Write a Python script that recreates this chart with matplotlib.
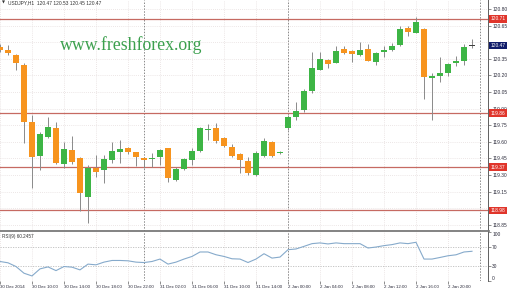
import matplotlib
matplotlib.use('Agg')
import matplotlib.pyplot as plt
from matplotlib.lines import Line2D
from matplotlib.transforms import blended_transform_factory
import numpy as np

# ---------------- data (USDJPY H1) ----------------
opens = [120.457, 120.430, 120.384, 120.294, 119.779, 119.472, 119.644, 119.725, 119.400, 119.526,
         119.454, 119.102, 119.364, 119.346, 119.436, 119.508, 119.544, 119.508, 119.454, 119.445,
         119.463, 119.544, 119.255, 119.355, 119.436, 119.517, 119.707, 119.725, 119.635, 119.553,
         119.490, 119.427, 119.300, 119.472, 119.599, 119.499, 119.725, 119.824, 119.888, 120.059,
         120.249, 120.339, 120.312, 120.439, 120.421, 120.384, 120.439, 120.321, 120.412, 120.430,
         120.475, 120.628, 120.583, 120.619, 120.177, 120.195, 120.222, 120.312, 120.330, 120.470]
highs = [120.484, 120.475, 120.390, 120.310, 119.842, 119.689, 119.824, 119.779, 119.599, 119.653,
         119.463, 119.391, 119.481, 119.481, 119.599, 119.617, 119.553, 119.508, 119.463, 119.499,
         119.535, 119.544, 119.373, 119.454, 119.544, 119.734, 119.761, 119.770, 119.644, 119.580,
         119.499, 119.463, 119.517, 119.635, 119.608, 119.517, 119.842, 119.960, 120.077, 120.412,
         120.412, 120.348, 120.466, 120.466, 120.430, 120.502, 120.484, 120.412, 120.466, 120.493,
         120.646, 120.646, 120.728, 120.628, 120.222, 120.366, 120.312, 120.375, 120.484, 120.530]
lows = [120.410, 120.384, 120.249, 119.590, 119.183, 119.346, 119.635, 119.400, 119.364, 119.400,
        118.972, 118.867, 119.282, 119.228, 119.409, 119.409, 119.490, 119.382, 119.364, 119.373,
        119.391, 119.237, 119.246, 119.346, 119.391, 119.508, 119.617, 119.590, 119.553, 119.463,
        119.318, 119.300, 119.291, 119.463, 119.463, 119.490, 119.707, 119.797, 119.870, 120.041,
        120.249, 120.267, 120.312, 120.394, 120.321, 120.375, 120.330, 120.294, 120.366, 120.421,
        120.466, 120.556, 120.583, 119.987, 119.797, 120.140, 120.195, 120.285, 120.294, 120.450]
closes = [120.430, 120.403, 120.312, 119.779, 119.463, 119.671, 119.734, 119.409, 119.535, 119.418,
          119.138, 119.364, 119.328, 119.445, 119.517, 119.535, 119.508, 119.463, 119.436, 119.454,
          119.526, 119.273, 119.355, 119.445, 119.517, 119.725, 119.716, 119.608, 119.562, 119.472,
          119.436, 119.318, 119.499, 119.608, 119.472, 119.508, 119.824, 119.879, 120.059, 120.267,
          120.348, 120.303, 120.421, 120.403, 120.394, 120.430, 120.330, 120.403, 120.430, 120.466,
          120.619, 120.592, 120.683, 120.186, 120.195, 120.222, 120.303, 120.330, 120.457, 120.470]
rsi = [39.2, 36.5, 28.8, 15.0, 9.4, 24.0, 28.0, 20.4, 28.8, 27.5,
       21.9, 33.8, 32.3, 37.9, 41.3, 41.3, 40.6, 37.9, 37.0, 39.2,
       44.2, 33.8, 37.9, 44.2, 49.6, 58.8, 58.8, 53.1, 49.6, 44.8,
       44.2, 37.1, 44.2, 55.2, 46.2, 48.3, 63.5, 65.0, 70.4, 76.0,
       77.5, 75.4, 77.5, 76.0, 76.0, 76.0, 67.0, 69.0, 71.9, 74.0,
       77.5, 76.0, 78.8, 44.2, 44.2, 47.5, 51.0, 53.0, 58.8, 60.2457]

price_ticks = [120.80, 120.65, 120.50, 120.35, 120.20, 120.05, 119.90,
               119.75, 119.60, 119.45, 119.30, 119.15, 119.00, 118.85]
hidden_ticks = [120.50, 119.00]   # covered by the price boxes in the original
level_values = [120.71, 119.86, 119.37, 118.98]
level_labels = ['120.71', '119.86', '119.37', '118.98']
current_price = 120.47
current_label = '120.47'
time_tick_pos = [0, 4, 8, 12, 16, 20, 24, 28, 32, 36, 40, 44, 48, 52, 56]
time_tick_labels = ['30 Dec 2014', '30 Dec 10:00', '30 Dec 14:00', '30 Dec 18:00',
                    '30 Dec 22:00', '31 Dec 02:00', '31 Dec 06:00', '31 Dec 10:00',
                    '31 Dec 14:00', '2 Jan 00:00', '2 Jan 04:00', '2 Jan 08:00',
                    '2 Jan 12:00', '2 Jan 16:00', '2 Jan 20:00']
day_separators = [18, 36, 60]
rsi_levels = [70, 30]
rsi_ticks = [100, 70, 30, 0]
title_text = 'USDJPY,H1  120.47 120.53 120.45 120.47'
rsi_text = 'RSI(9) 60.2457'
watermark = 'www.freshforex.org'

# ---------------- styling ----------------
W, H = 510, 289
GREEN = '#3DB545'
ORANGE = '#F7941E'
WICK = '#8a8a8a'
GRID = '#E6DEDE'
LEVEL = '#C66A62'
LABEL_RED = '#E0352B'
NAVY = '#101C6A'
TXT = '#2b2b3b'
FONT = 'Liberation Sans'

fig = plt.figure(figsize=(W / 100, H / 100), dpi=100)
fig.patch.set_facecolor('white')


def px(x0, y0, x1, y1):
    return [x0 / W, 1 - y1 / H, (x1 - x0) / W, (y1 - y0) / H]


ax = fig.add_axes(px(0, 0, 488, 230.5))
ax2 = fig.add_axes(px(0, 232, 488, 280.5))

n = len(opens)
x = np.arange(n)
o = np.array(opens)
h = np.array(highs)
l = np.array(lows)
c = np.array(closes)

for a in (ax, ax2):
    a.set_xlim(0, 61)
    for s in ('left', 'top', 'bottom'):
        a.spines[s].set_visible(False)
    a.spines['right'].set_color('#606060')
    a.spines['right'].set_linewidth(0.7)
    a.yaxis.tick_right()
    a.tick_params(axis='y', labelsize=3.5, length=2, width=0.5, color='#606060',
                  labelcolor=TXT, pad=1)
    for v in time_tick_pos:
        a.axvline(v, color=GRID, lw=0.6, ls=(0, (1, 1.5)), zorder=0)
    for v in day_separators:
        a.axvline(v, color='#8a8a8a', lw=0.7, ls=(0, (1.5, 1.5)), zorder=1)

# ---------------- main panel ----------------
ax.set_ylim(118.799, 120.881)
ax.set_yticks(price_ticks)
ax.set_yticklabels(['' if t in hidden_ticks else '%.2f' % t for t in price_ticks],
                   family=FONT)
ax.set_xticks([])
for t in price_ticks:
    ax.axhline(t, color=GRID, lw=0.6, ls=(0, (1, 1.5)), zorder=0)

fig.text(60 / W, 1 - 50 / H, watermark, family='Liberation Serif', fontsize=12.8,
         color='#3CA04E', ha='left', va='baseline', zorder=0)

for lv in level_values:
    ax.axhline(lv, color=LEVEL, lw=0.9, zorder=1.5)

colors = [GREEN if cc > oo else (ORANGE if cc < oo else '#404040') for oo, cc in zip(o, c)]
ax.vlines(x, l, h, color=WICK, lw=0.7, zorder=2)
bottoms = np.minimum(o, c)
heights = np.maximum(np.abs(c - o), 0.005)
ax.bar(x, heights, bottom=bottoms, width=0.72, color=colors, linewidth=0, zorder=3)

tr = blended_transform_factory(ax.transAxes, ax.transData)
for lv, lb in zip(level_values, level_labels):
    ax.text(1.005, lv, lb, transform=tr, fontsize=3.5, family=FONT, color='white',
            ha='left', va='center', clip_on=False, zorder=10,
            bbox=dict(boxstyle='square,pad=0.3', fc=LABEL_RED, ec='none'))
ax.text(1.005, current_price, current_label, transform=tr, fontsize=3.5, family=FONT,
        color='white', ha='left', va='center', clip_on=False, zorder=10,
        bbox=dict(boxstyle='square,pad=0.3', fc=NAVY, ec='none'))

# ---------------- RSI panel ----------------
ax2.set_ylim(0, 100)
ax2.plot(x, rsi, color='#86AACB', lw=0.8, zorder=3)
for lv in rsi_levels:
    ax2.axhline(lv, color='#BDBDBD', lw=0.6, ls=(0, (1.5, 1.5)), zorder=1)
ax2.set_yticks(rsi_ticks)
ax2.set_yticklabels([str(t) for t in rsi_ticks], family=FONT)
ylabs = ax2.get_yticklabels()
ylabs[0].set_va('top')
ylabs[-1].set_va('bottom')
ax2.set_xticks(time_tick_pos)
ax2.set_xticklabels(time_tick_labels, ha='left', family=FONT)
ax2.tick_params(axis='x', labelsize=3.2, length=2, width=0.5, color='#606060',
                labelcolor=TXT, pad=1)

# separator between panels
fig.add_artist(Line2D([0, 489 / W], [1 - 231.2 / H] * 2, lw=1.3, color='#7a7a7a',
                      transform=fig.transFigure))

# header texts
fig.text(2 / W, 1 - 3 / H, '▼', family='DejaVu Sans', fontsize=2.8, color='#333333',
         ha='left', va='center')
fig.text(8 / W, 1 - 3 / H, title_text, family=FONT, fontsize=3.5, color='#333333',
         ha='left', va='center')
fig.text(2 / W, 1 - 236.5 / H, rsi_text, family=FONT, fontsize=3.35, color='#333333',
         ha='left', va='center')

fig.savefig('out.png', dpi=100, facecolor='white')
